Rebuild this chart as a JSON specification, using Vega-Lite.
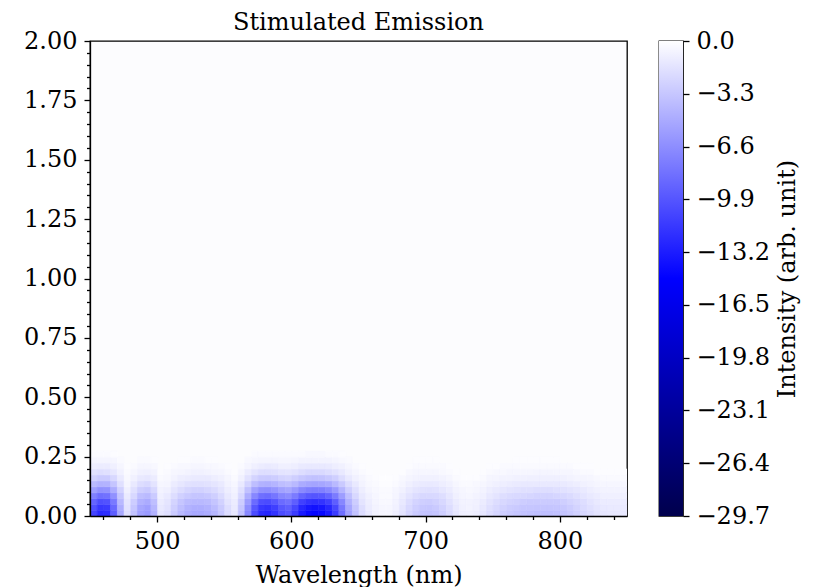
{
"$schema":"https://vega.github.io/schema/vega-lite/v6.json",
"background":"white",
"padding":{"left":22,"top":10,"right":5,"bottom":5},
"bounds":"flush",
"spacing":32,
"config":{
"font":"DejaVu Serif",
"axis":{"labelFont":"DejaVu Serif","labelFontSize":24,"labelColor":"black","titleFont":"DejaVu Serif","titleFontSize":24,"titleFontWeight":"normal","titleColor":"black","tickColor":"black","domainColor":"black","tickWidth":1.3,"domainWidth":1.3,"grid":false,"labelPadding":7}
},
"hconcat":[
{
"width":537,"height":475,
"title":{"text":"Stimulated Emission","font":"DejaVu Serif","fontSize":24,"fontWeight":"normal","offset":-6,"color":"black"},
"view":{"fill":"#fcfcfe","stroke":"black","strokeWidth":1.3},
"data":{"values":[
{"x":452.5,"y":0.0125,"v":-10.9},{"x":457.5,"y":0.0125,"v":-12.4},{"x":462.5,"y":0.0125,"v":-12.2},{"x":467.5,"y":0.0125,"v":-9.4},{"x":472.5,"y":0.0125,"v":-5.0},{"x":477.5,"y":0.0125,"v":-1.8},{"x":482.5,"y":0.0125,"v":-3.5},{"x":487.5,"y":0.0125,"v":-5.4},{"x":492.5,"y":0.0125,"v":-5.9},{"x":497.5,"y":0.0125,"v":-4.5},
{"x":502.5,"y":0.0125,"v":-1.4},{"x":507.5,"y":0.0125,"v":-1.8},{"x":512.5,"y":0.0125,"v":-3.0},{"x":517.5,"y":0.0125,"v":-4.0},{"x":522.5,"y":0.0125,"v":-4.7},{"x":527.5,"y":0.0125,"v":-5.0},{"x":532.5,"y":0.0125,"v":-5.0},{"x":537.5,"y":0.0125,"v":-4.8},{"x":542.5,"y":0.0125,"v":-4.2},{"x":547.5,"y":0.0125,"v":-3.2},
{"x":552.5,"y":0.0125,"v":-2.0},{"x":557.5,"y":0.0125,"v":-1.3},{"x":562.5,"y":0.0125,"v":-3.5},{"x":567.5,"y":0.0125,"v":-6.9},{"x":572.5,"y":0.0125,"v":-10.4},{"x":577.5,"y":0.0125,"v":-12.4},{"x":582.5,"y":0.0125,"v":-12.7},{"x":587.5,"y":0.0125,"v":-11.9},{"x":592.5,"y":0.0125,"v":-10.4},{"x":597.5,"y":0.0125,"v":-9.9},
{"x":602.5,"y":0.0125,"v":-11.4},{"x":607.5,"y":0.0125,"v":-13.4},{"x":612.5,"y":0.0125,"v":-14.4},{"x":617.5,"y":0.0125,"v":-14.7},{"x":622.5,"y":0.0125,"v":-14.4},{"x":627.5,"y":0.0125,"v":-13.4},{"x":632.5,"y":0.0125,"v":-11.4},{"x":637.5,"y":0.0125,"v":-8.4},{"x":642.5,"y":0.0125,"v":-5.4},{"x":647.5,"y":0.0125,"v":-3.5},
{"x":652.5,"y":0.0125,"v":-2.0},{"x":657.5,"y":0.0125,"v":-1.2},{"x":662.5,"y":0.0125,"v":-0.7},{"x":667.5,"y":0.0125,"v":-0.5},{"x":672.5,"y":0.0125,"v":-0.5},{"x":677.5,"y":0.0125,"v":-0.9},{"x":682.5,"y":0.0125,"v":-1.6},{"x":687.5,"y":0.0125,"v":-2.4},{"x":692.5,"y":0.0125,"v":-3.0},{"x":697.5,"y":0.0125,"v":-3.4},
{"x":702.5,"y":0.0125,"v":-3.5},{"x":707.5,"y":0.0125,"v":-3.3},{"x":712.5,"y":0.0125,"v":-2.8},{"x":717.5,"y":0.0125,"v":-2.1},{"x":722.5,"y":0.0125,"v":-1.4},{"x":727.5,"y":0.0125,"v":-0.9},{"x":732.5,"y":0.0125,"v":-0.8},{"x":737.5,"y":0.0125,"v":-1.0},{"x":742.5,"y":0.0125,"v":-1.4},{"x":747.5,"y":0.0125,"v":-1.9},
{"x":752.5,"y":0.0125,"v":-2.4},{"x":757.5,"y":0.0125,"v":-2.8},{"x":762.5,"y":0.0125,"v":-3.1},{"x":767.5,"y":0.0125,"v":-3.3},{"x":772.5,"y":0.0125,"v":-3.5},{"x":777.5,"y":0.0125,"v":-3.6},{"x":782.5,"y":0.0125,"v":-3.7},{"x":787.5,"y":0.0125,"v":-3.7},{"x":792.5,"y":0.0125,"v":-3.7},{"x":797.5,"y":0.0125,"v":-3.6},
{"x":802.5,"y":0.0125,"v":-3.4},{"x":807.5,"y":0.0125,"v":-3.1},{"x":812.5,"y":0.0125,"v":-2.7},{"x":817.5,"y":0.0125,"v":-2.3},{"x":822.5,"y":0.0125,"v":-1.9},{"x":827.5,"y":0.0125,"v":-1.6},{"x":832.5,"y":0.0125,"v":-1.4},{"x":837.5,"y":0.0125,"v":-1.3},{"x":842.5,"y":0.0125,"v":-1.3},{"x":847.5,"y":0.0125,"v":-1.3},

{"x":452.5,"y":0.0375,"v":-10.2},{"x":457.5,"y":0.0375,"v":-11.6},{"x":462.5,"y":0.0375,"v":-11.4},{"x":467.5,"y":0.0375,"v":-8.8},{"x":472.5,"y":0.0375,"v":-4.7},{"x":477.5,"y":0.0375,"v":-1.7},{"x":482.5,"y":0.0375,"v":-3.3},{"x":487.5,"y":0.0375,"v":-5.1},{"x":492.5,"y":0.0375,"v":-5.6},{"x":497.5,"y":0.0375,"v":-4.2},
{"x":502.5,"y":0.0375,"v":-1.3},{"x":507.5,"y":0.0375,"v":-1.7},{"x":512.5,"y":0.0375,"v":-2.8},{"x":517.5,"y":0.0375,"v":-3.7},{"x":522.5,"y":0.0375,"v":-4.4},{"x":527.5,"y":0.0375,"v":-4.7},{"x":532.5,"y":0.0375,"v":-4.7},{"x":537.5,"y":0.0375,"v":-4.5},{"x":542.5,"y":0.0375,"v":-3.9},{"x":547.5,"y":0.0375,"v":-3.0},
{"x":552.5,"y":0.0375,"v":-1.9},{"x":557.5,"y":0.0375,"v":-1.2},{"x":562.5,"y":0.0375,"v":-3.3},{"x":567.5,"y":0.0375,"v":-6.5},{"x":572.5,"y":0.0375,"v":-9.8},{"x":577.5,"y":0.0375,"v":-11.6},{"x":582.5,"y":0.0375,"v":-11.9},{"x":587.5,"y":0.0375,"v":-11.2},{"x":592.5,"y":0.0375,"v":-9.8},{"x":597.5,"y":0.0375,"v":-9.3},
{"x":602.5,"y":0.0375,"v":-10.7},{"x":607.5,"y":0.0375,"v":-12.6},{"x":612.5,"y":0.0375,"v":-13.5},{"x":617.5,"y":0.0375,"v":-13.8},{"x":622.5,"y":0.0375,"v":-13.5},{"x":627.5,"y":0.0375,"v":-12.6},{"x":632.5,"y":0.0375,"v":-10.7},{"x":637.5,"y":0.0375,"v":-7.9},{"x":642.5,"y":0.0375,"v":-5.1},{"x":647.5,"y":0.0375,"v":-3.3},
{"x":652.5,"y":0.0375,"v":-1.9},{"x":657.5,"y":0.0375,"v":-1.1},{"x":662.5,"y":0.0375,"v":-0.7},{"x":667.5,"y":0.0375,"v":-0.5},{"x":672.5,"y":0.0375,"v":-0.5},{"x":677.5,"y":0.0375,"v":-0.8},{"x":682.5,"y":0.0375,"v":-1.5},{"x":687.5,"y":0.0375,"v":-2.2},{"x":692.5,"y":0.0375,"v":-2.8},{"x":697.5,"y":0.0375,"v":-3.2},
{"x":702.5,"y":0.0375,"v":-3.3},{"x":707.5,"y":0.0375,"v":-3.1},{"x":712.5,"y":0.0375,"v":-2.6},{"x":717.5,"y":0.0375,"v":-2.0},{"x":722.5,"y":0.0375,"v":-1.3},{"x":727.5,"y":0.0375,"v":-0.8},{"x":732.5,"y":0.0375,"v":-0.7},{"x":737.5,"y":0.0375,"v":-0.9},{"x":742.5,"y":0.0375,"v":-1.3},{"x":747.5,"y":0.0375,"v":-1.8},
{"x":752.5,"y":0.0375,"v":-2.2},{"x":757.5,"y":0.0375,"v":-2.6},{"x":762.5,"y":0.0375,"v":-2.9},{"x":767.5,"y":0.0375,"v":-3.1},{"x":772.5,"y":0.0375,"v":-3.3},{"x":777.5,"y":0.0375,"v":-3.3},{"x":782.5,"y":0.0375,"v":-3.4},{"x":787.5,"y":0.0375,"v":-3.4},{"x":792.5,"y":0.0375,"v":-3.4},{"x":797.5,"y":0.0375,"v":-3.3},
{"x":802.5,"y":0.0375,"v":-3.2},{"x":807.5,"y":0.0375,"v":-2.9},{"x":812.5,"y":0.0375,"v":-2.5},{"x":817.5,"y":0.0375,"v":-2.1},{"x":822.5,"y":0.0375,"v":-1.8},{"x":827.5,"y":0.0375,"v":-1.5},{"x":832.5,"y":0.0375,"v":-1.3},{"x":837.5,"y":0.0375,"v":-1.2},{"x":842.5,"y":0.0375,"v":-1.2},{"x":847.5,"y":0.0375,"v":-1.2},

{"x":452.5,"y":0.0625,"v":-9.0},{"x":457.5,"y":0.0625,"v":-10.3},{"x":462.5,"y":0.0625,"v":-10.1},{"x":467.5,"y":0.0625,"v":-7.8},{"x":472.5,"y":0.0625,"v":-4.1},{"x":477.5,"y":0.0625,"v":-1.5},{"x":482.5,"y":0.0625,"v":-2.9},{"x":487.5,"y":0.0625,"v":-4.5},{"x":492.5,"y":0.0625,"v":-4.9},{"x":497.5,"y":0.0625,"v":-3.7},
{"x":502.5,"y":0.0625,"v":-1.1},{"x":507.5,"y":0.0625,"v":-1.5},{"x":512.5,"y":0.0625,"v":-2.5},{"x":517.5,"y":0.0625,"v":-3.3},{"x":522.5,"y":0.0625,"v":-3.9},{"x":527.5,"y":0.0625,"v":-4.1},{"x":532.5,"y":0.0625,"v":-4.1},{"x":537.5,"y":0.0625,"v":-3.9},{"x":542.5,"y":0.0625,"v":-3.4},{"x":547.5,"y":0.0625,"v":-2.6},
{"x":552.5,"y":0.0625,"v":-1.6},{"x":557.5,"y":0.0625,"v":-1.1},{"x":562.5,"y":0.0625,"v":-2.9},{"x":567.5,"y":0.0625,"v":-5.7},{"x":572.5,"y":0.0625,"v":-8.6},{"x":577.5,"y":0.0625,"v":-10.3},{"x":582.5,"y":0.0625,"v":-10.5},{"x":587.5,"y":0.0625,"v":-9.8},{"x":592.5,"y":0.0625,"v":-8.6},{"x":597.5,"y":0.0625,"v":-8.2},
{"x":602.5,"y":0.0625,"v":-9.4},{"x":607.5,"y":0.0625,"v":-11.1},{"x":612.5,"y":0.0625,"v":-11.9},{"x":617.5,"y":0.0625,"v":-12.1},{"x":622.5,"y":0.0625,"v":-11.9},{"x":627.5,"y":0.0625,"v":-11.1},{"x":632.5,"y":0.0625,"v":-9.4},{"x":637.5,"y":0.0625,"v":-7.0},{"x":642.5,"y":0.0625,"v":-4.5},{"x":647.5,"y":0.0625,"v":-2.9},
{"x":652.5,"y":0.0625,"v":-1.6},{"x":657.5,"y":0.0625,"v":-1.0},{"x":662.5,"y":0.0625,"v":-0.6},{"x":667.5,"y":0.0625,"v":-0.4},{"x":672.5,"y":0.0625,"v":-0.4},{"x":677.5,"y":0.0625,"v":-0.7},{"x":682.5,"y":0.0625,"v":-1.3},{"x":687.5,"y":0.0625,"v":-2.0},{"x":692.5,"y":0.0625,"v":-2.5},{"x":697.5,"y":0.0625,"v":-2.8},
{"x":702.5,"y":0.0625,"v":-2.9},{"x":707.5,"y":0.0625,"v":-2.7},{"x":712.5,"y":0.0625,"v":-2.3},{"x":717.5,"y":0.0625,"v":-1.7},{"x":722.5,"y":0.0625,"v":-1.1},{"x":727.5,"y":0.0625,"v":-0.7},{"x":732.5,"y":0.0625,"v":-0.7},{"x":737.5,"y":0.0625,"v":-0.8},{"x":742.5,"y":0.0625,"v":-1.1},{"x":747.5,"y":0.0625,"v":-1.6},
{"x":752.5,"y":0.0625,"v":-2.0},{"x":757.5,"y":0.0625,"v":-2.3},{"x":762.5,"y":0.0625,"v":-2.5},{"x":767.5,"y":0.0625,"v":-2.7},{"x":772.5,"y":0.0625,"v":-2.9},{"x":777.5,"y":0.0625,"v":-3.0},{"x":782.5,"y":0.0625,"v":-3.0},{"x":787.5,"y":0.0625,"v":-3.0},{"x":792.5,"y":0.0625,"v":-3.0},{"x":797.5,"y":0.0625,"v":-3.0},
{"x":802.5,"y":0.0625,"v":-2.8},{"x":807.5,"y":0.0625,"v":-2.5},{"x":812.5,"y":0.0625,"v":-2.2},{"x":817.5,"y":0.0625,"v":-1.9},{"x":822.5,"y":0.0625,"v":-1.6},{"x":827.5,"y":0.0625,"v":-1.3},{"x":832.5,"y":0.0625,"v":-1.1},{"x":837.5,"y":0.0625,"v":-1.1},{"x":842.5,"y":0.0625,"v":-1.1},{"x":847.5,"y":0.0625,"v":-1.1},

{"x":452.5,"y":0.0875,"v":-7.4},{"x":457.5,"y":0.0875,"v":-8.4},{"x":462.5,"y":0.0875,"v":-8.2},{"x":467.5,"y":0.0875,"v":-6.4},{"x":472.5,"y":0.0875,"v":-3.4},{"x":477.5,"y":0.0875,"v":-1.2},{"x":482.5,"y":0.0875,"v":-2.3},{"x":487.5,"y":0.0875,"v":-3.7},{"x":492.5,"y":0.0875,"v":-4.0},{"x":497.5,"y":0.0875,"v":-3.0},
{"x":502.5,"y":0.0875,"v":-0.9},{"x":507.5,"y":0.0875,"v":-1.2},{"x":512.5,"y":0.0875,"v":-2.0},{"x":517.5,"y":0.0875,"v":-2.7},{"x":522.5,"y":0.0875,"v":-3.1},{"x":527.5,"y":0.0875,"v":-3.4},{"x":532.5,"y":0.0875,"v":-3.4},{"x":537.5,"y":0.0875,"v":-3.2},{"x":542.5,"y":0.0875,"v":-2.8},{"x":547.5,"y":0.0875,"v":-2.1},
{"x":552.5,"y":0.0875,"v":-1.3},{"x":557.5,"y":0.0875,"v":-0.9},{"x":562.5,"y":0.0875,"v":-2.3},{"x":567.5,"y":0.0875,"v":-4.7},{"x":572.5,"y":0.0875,"v":-7.0},{"x":577.5,"y":0.0875,"v":-8.4},{"x":582.5,"y":0.0875,"v":-8.6},{"x":587.5,"y":0.0875,"v":-8.0},{"x":592.5,"y":0.0875,"v":-7.0},{"x":597.5,"y":0.0875,"v":-6.7},
{"x":602.5,"y":0.0875,"v":-7.7},{"x":607.5,"y":0.0875,"v":-9.0},{"x":612.5,"y":0.0875,"v":-9.7},{"x":617.5,"y":0.0875,"v":-9.9},{"x":622.5,"y":0.0875,"v":-9.7},{"x":627.5,"y":0.0875,"v":-9.0},{"x":632.5,"y":0.0875,"v":-7.7},{"x":637.5,"y":0.0875,"v":-5.7},{"x":642.5,"y":0.0875,"v":-3.7},{"x":647.5,"y":0.0875,"v":-2.3},
{"x":652.5,"y":0.0875,"v":-1.3},{"x":657.5,"y":0.0875,"v":-0.8},{"x":662.5,"y":0.0875,"v":-0.5},{"x":667.5,"y":0.0875,"v":-0.3},{"x":672.5,"y":0.0875,"v":-0.3},{"x":677.5,"y":0.0875,"v":-0.6},{"x":682.5,"y":0.0875,"v":-1.1},{"x":687.5,"y":0.0875,"v":-1.6},{"x":692.5,"y":0.0875,"v":-2.0},{"x":697.5,"y":0.0875,"v":-2.3},
{"x":702.5,"y":0.0875,"v":-2.3},{"x":707.5,"y":0.0875,"v":-2.2},{"x":712.5,"y":0.0875,"v":-1.9},{"x":717.5,"y":0.0875,"v":-1.4},{"x":722.5,"y":0.0875,"v":-0.9},{"x":727.5,"y":0.0875,"v":-0.6},{"x":732.5,"y":0.0875,"v":-0.5},{"x":737.5,"y":0.0875,"v":-0.7},{"x":742.5,"y":0.0875,"v":-0.9},{"x":747.5,"y":0.0875,"v":-1.3},
{"x":752.5,"y":0.0875,"v":-1.6},{"x":757.5,"y":0.0875,"v":-1.9},{"x":762.5,"y":0.0875,"v":-2.1},{"x":767.5,"y":0.0875,"v":-2.2},{"x":772.5,"y":0.0875,"v":-2.3},{"x":777.5,"y":0.0875,"v":-2.4},{"x":782.5,"y":0.0875,"v":-2.5},{"x":787.5,"y":0.0875,"v":-2.5},{"x":792.5,"y":0.0875,"v":-2.5},{"x":797.5,"y":0.0875,"v":-2.4},
{"x":802.5,"y":0.0875,"v":-2.3},{"x":807.5,"y":0.0875,"v":-2.1},{"x":812.5,"y":0.0875,"v":-1.8},{"x":817.5,"y":0.0875,"v":-1.5},{"x":822.5,"y":0.0875,"v":-1.3},{"x":827.5,"y":0.0875,"v":-1.1},{"x":832.5,"y":0.0875,"v":-0.9},{"x":837.5,"y":0.0875,"v":-0.9},{"x":842.5,"y":0.0875,"v":-0.9},{"x":847.5,"y":0.0875,"v":-0.9},

{"x":452.5,"y":0.1125,"v":-5.6},{"x":457.5,"y":0.1125,"v":-6.4},{"x":462.5,"y":0.1125,"v":-6.3},{"x":467.5,"y":0.1125,"v":-4.8},{"x":472.5,"y":0.1125,"v":-2.6},{"x":477.5,"y":0.1125,"v":-0.9},{"x":482.5,"y":0.1125,"v":-1.8},{"x":487.5,"y":0.1125,"v":-2.8},{"x":492.5,"y":0.1125,"v":-3.1},{"x":497.5,"y":0.1125,"v":-2.3},
{"x":502.5,"y":0.1125,"v":-0.7},{"x":507.5,"y":0.1125,"v":-0.9},{"x":512.5,"y":0.1125,"v":-1.5},{"x":517.5,"y":0.1125,"v":-2.0},{"x":522.5,"y":0.1125,"v":-2.4},{"x":527.5,"y":0.1125,"v":-2.6},{"x":532.5,"y":0.1125,"v":-2.6},{"x":537.5,"y":0.1125,"v":-2.4},{"x":542.5,"y":0.1125,"v":-2.1},{"x":547.5,"y":0.1125,"v":-1.6},
{"x":552.5,"y":0.1125,"v":-1.0},{"x":557.5,"y":0.1125,"v":-0.7},{"x":562.5,"y":0.1125,"v":-1.8},{"x":567.5,"y":0.1125,"v":-3.6},{"x":572.5,"y":0.1125,"v":-5.4},{"x":577.5,"y":0.1125,"v":-6.4},{"x":582.5,"y":0.1125,"v":-6.5},{"x":587.5,"y":0.1125,"v":-6.1},{"x":592.5,"y":0.1125,"v":-5.4},{"x":597.5,"y":0.1125,"v":-5.1},
{"x":602.5,"y":0.1125,"v":-5.9},{"x":607.5,"y":0.1125,"v":-6.9},{"x":612.5,"y":0.1125,"v":-7.4},{"x":617.5,"y":0.1125,"v":-7.5},{"x":622.5,"y":0.1125,"v":-7.4},{"x":627.5,"y":0.1125,"v":-6.9},{"x":632.5,"y":0.1125,"v":-5.9},{"x":637.5,"y":0.1125,"v":-4.3},{"x":642.5,"y":0.1125,"v":-2.8},{"x":647.5,"y":0.1125,"v":-1.8},
{"x":652.5,"y":0.1125,"v":-1.0},{"x":657.5,"y":0.1125,"v":-0.6},{"x":662.5,"y":0.1125,"v":-0.4},{"x":667.5,"y":0.1125,"v":-0.3},{"x":672.5,"y":0.1125,"v":-0.3},{"x":677.5,"y":0.1125,"v":-0.5},{"x":682.5,"y":0.1125,"v":-0.8},{"x":687.5,"y":0.1125,"v":-1.2},{"x":692.5,"y":0.1125,"v":-1.5},{"x":697.5,"y":0.1125,"v":-1.7},
{"x":702.5,"y":0.1125,"v":-1.8},{"x":707.5,"y":0.1125,"v":-1.7},{"x":712.5,"y":0.1125,"v":-1.4},{"x":717.5,"y":0.1125,"v":-1.1},{"x":722.5,"y":0.1125,"v":-0.7},{"x":727.5,"y":0.1125,"v":-0.5},{"x":732.5,"y":0.1125,"v":-0.4},{"x":737.5,"y":0.1125,"v":-0.5},{"x":742.5,"y":0.1125,"v":-0.7},{"x":747.5,"y":0.1125,"v":-1.0},
{"x":752.5,"y":0.1125,"v":-1.2},{"x":757.5,"y":0.1125,"v":-1.4},{"x":762.5,"y":0.1125,"v":-1.6},{"x":767.5,"y":0.1125,"v":-1.7},{"x":772.5,"y":0.1125,"v":-1.8},{"x":777.5,"y":0.1125,"v":-1.8},{"x":782.5,"y":0.1125,"v":-1.9},{"x":787.5,"y":0.1125,"v":-1.9},{"x":792.5,"y":0.1125,"v":-1.9},{"x":797.5,"y":0.1125,"v":-1.8},
{"x":802.5,"y":0.1125,"v":-1.7},{"x":807.5,"y":0.1125,"v":-1.6},{"x":812.5,"y":0.1125,"v":-1.4},{"x":817.5,"y":0.1125,"v":-1.2},{"x":822.5,"y":0.1125,"v":-1.0},{"x":827.5,"y":0.1125,"v":-0.8},{"x":832.5,"y":0.1125,"v":-0.7},{"x":837.5,"y":0.1125,"v":-0.7},{"x":842.5,"y":0.1125,"v":-0.7},{"x":847.5,"y":0.1125,"v":-0.7},

{"x":452.5,"y":0.1375,"v":-4.0},{"x":457.5,"y":0.1375,"v":-4.5},{"x":462.5,"y":0.1375,"v":-4.4},{"x":467.5,"y":0.1375,"v":-3.4},{"x":472.5,"y":0.1375,"v":-1.8},{"x":477.5,"y":0.1375,"v":-0.6},{"x":482.5,"y":0.1375,"v":-1.3},{"x":487.5,"y":0.1375,"v":-2.0},{"x":492.5,"y":0.1375,"v":-2.2},{"x":497.5,"y":0.1375,"v":-1.6},
{"x":502.5,"y":0.1375,"v":-0.5},{"x":507.5,"y":0.1375,"v":-0.6},{"x":512.5,"y":0.1375,"v":-1.1},{"x":517.5,"y":0.1375,"v":-1.4},{"x":522.5,"y":0.1375,"v":-1.7},{"x":527.5,"y":0.1375,"v":-1.8},{"x":532.5,"y":0.1375,"v":-1.8},{"x":537.5,"y":0.1375,"v":-1.7},{"x":542.5,"y":0.1375,"v":-1.5},{"x":547.5,"y":0.1375,"v":-1.2},
{"x":552.5,"y":0.1375,"v":-0.7},{"x":557.5,"y":0.1375,"v":-0.5},{"x":562.5,"y":0.1375,"v":-1.3},{"x":567.5,"y":0.1375,"v":-2.5},{"x":572.5,"y":0.1375,"v":-3.8},{"x":577.5,"y":0.1375,"v":-4.5},{"x":582.5,"y":0.1375,"v":-4.6},{"x":587.5,"y":0.1375,"v":-4.3},{"x":592.5,"y":0.1375,"v":-3.8},{"x":597.5,"y":0.1375,"v":-3.6},
{"x":602.5,"y":0.1375,"v":-4.1},{"x":607.5,"y":0.1375,"v":-4.9},{"x":612.5,"y":0.1375,"v":-5.2},{"x":617.5,"y":0.1375,"v":-5.3},{"x":622.5,"y":0.1375,"v":-5.2},{"x":627.5,"y":0.1375,"v":-4.9},{"x":632.5,"y":0.1375,"v":-4.1},{"x":637.5,"y":0.1375,"v":-3.1},{"x":642.5,"y":0.1375,"v":-2.0},{"x":647.5,"y":0.1375,"v":-1.3},
{"x":652.5,"y":0.1375,"v":-0.7},{"x":657.5,"y":0.1375,"v":-0.4},{"x":662.5,"y":0.1375,"v":-0.3},{"x":667.5,"y":0.1375,"v":-0.2},{"x":672.5,"y":0.1375,"v":-0.2},{"x":677.5,"y":0.1375,"v":-0.3},{"x":682.5,"y":0.1375,"v":-0.6},{"x":687.5,"y":0.1375,"v":-0.9},{"x":692.5,"y":0.1375,"v":-1.1},{"x":697.5,"y":0.1375,"v":-1.2},
{"x":702.5,"y":0.1375,"v":-1.3},{"x":707.5,"y":0.1375,"v":-1.2},{"x":712.5,"y":0.1375,"v":-1.0},{"x":717.5,"y":0.1375,"v":-0.8},{"x":722.5,"y":0.1375,"v":-0.5},{"x":727.5,"y":0.1375,"v":-0.3},{"x":732.5,"y":0.1375,"v":-0.3},{"x":737.5,"y":0.1375,"v":-0.4},{"x":742.5,"y":0.1375,"v":-0.5},{"x":747.5,"y":0.1375,"v":-0.7},
{"x":752.5,"y":0.1375,"v":-0.9},{"x":757.5,"y":0.1375,"v":-1.0},{"x":762.5,"y":0.1375,"v":-1.1},{"x":767.5,"y":0.1375,"v":-1.2},{"x":772.5,"y":0.1375,"v":-1.3},{"x":777.5,"y":0.1375,"v":-1.3},{"x":782.5,"y":0.1375,"v":-1.3},{"x":787.5,"y":0.1375,"v":-1.3},{"x":792.5,"y":0.1375,"v":-1.3},{"x":797.5,"y":0.1375,"v":-1.3},
{"x":802.5,"y":0.1375,"v":-1.2},{"x":807.5,"y":0.1375,"v":-1.1},{"x":812.5,"y":0.1375,"v":-1.0},{"x":817.5,"y":0.1375,"v":-0.8},{"x":822.5,"y":0.1375,"v":-0.7},{"x":827.5,"y":0.1375,"v":-0.6},{"x":832.5,"y":0.1375,"v":-0.5},{"x":837.5,"y":0.1375,"v":-0.5},{"x":842.5,"y":0.1375,"v":-0.5},{"x":847.5,"y":0.1375,"v":-0.5},

{"x":452.5,"y":0.1625,"v":-2.6},{"x":457.5,"y":0.1625,"v":-3.0},{"x":462.5,"y":0.1625,"v":-3.0},{"x":467.5,"y":0.1625,"v":-2.3},{"x":472.5,"y":0.1625,"v":-1.2},{"x":477.5,"y":0.1625,"v":-0.4},{"x":482.5,"y":0.1625,"v":-0.8},{"x":487.5,"y":0.1625,"v":-1.3},{"x":492.5,"y":0.1625,"v":-1.4},{"x":497.5,"y":0.1625,"v":-1.1},
{"x":502.5,"y":0.1625,"v":-0.3},{"x":507.5,"y":0.1625,"v":-0.4},{"x":512.5,"y":0.1625,"v":-0.7},{"x":517.5,"y":0.1625,"v":-1.0},{"x":522.5,"y":0.1625,"v":-1.1},{"x":527.5,"y":0.1625,"v":-1.2},{"x":532.5,"y":0.1625,"v":-1.2},{"x":537.5,"y":0.1625,"v":-1.2},{"x":542.5,"y":0.1625,"v":-1.0},{"x":547.5,"y":0.1625,"v":-0.8},
{"x":552.5,"y":0.1625,"v":-0.5},{"x":557.5,"y":0.1625,"v":-0.3},{"x":562.5,"y":0.1625,"v":-0.8},{"x":567.5,"y":0.1625,"v":-1.7},{"x":572.5,"y":0.1625,"v":-2.5},{"x":577.5,"y":0.1625,"v":-3.0},{"x":582.5,"y":0.1625,"v":-3.1},{"x":587.5,"y":0.1625,"v":-2.9},{"x":592.5,"y":0.1625,"v":-2.5},{"x":597.5,"y":0.1625,"v":-2.4},
{"x":602.5,"y":0.1625,"v":-2.8},{"x":607.5,"y":0.1625,"v":-3.2},{"x":612.5,"y":0.1625,"v":-3.5},{"x":617.5,"y":0.1625,"v":-3.6},{"x":622.5,"y":0.1625,"v":-3.5},{"x":627.5,"y":0.1625,"v":-3.2},{"x":632.5,"y":0.1625,"v":-2.8},{"x":637.5,"y":0.1625,"v":-2.0},{"x":642.5,"y":0.1625,"v":-1.3},{"x":647.5,"y":0.1625,"v":-0.8},
{"x":652.5,"y":0.1625,"v":-0.5},{"x":657.5,"y":0.1625,"v":-0.3},{"x":662.5,"y":0.1625,"v":-0.2},{"x":667.5,"y":0.1625,"v":-0.1},{"x":672.5,"y":0.1625,"v":-0.1},{"x":677.5,"y":0.1625,"v":-0.2},{"x":682.5,"y":0.1625,"v":-0.4},{"x":687.5,"y":0.1625,"v":-0.6},{"x":692.5,"y":0.1625,"v":-0.7},{"x":697.5,"y":0.1625,"v":-0.8},
{"x":702.5,"y":0.1625,"v":-0.8},{"x":707.5,"y":0.1625,"v":-0.8},{"x":712.5,"y":0.1625,"v":-0.7},{"x":717.5,"y":0.1625,"v":-0.5},{"x":722.5,"y":0.1625,"v":-0.3},{"x":727.5,"y":0.1625,"v":-0.2},{"x":732.5,"y":0.1625,"v":-0.2},{"x":737.5,"y":0.1625,"v":-0.2},{"x":742.5,"y":0.1625,"v":-0.3},{"x":747.5,"y":0.1625,"v":-0.5},
{"x":752.5,"y":0.1625,"v":-0.6},{"x":757.5,"y":0.1625,"v":-0.7},{"x":762.5,"y":0.1625,"v":-0.7},{"x":767.5,"y":0.1625,"v":-0.8},{"x":772.5,"y":0.1625,"v":-0.8},{"x":777.5,"y":0.1625,"v":-0.9},{"x":782.5,"y":0.1625,"v":-0.9},{"x":787.5,"y":0.1625,"v":-0.9},{"x":792.5,"y":0.1625,"v":-0.9},{"x":797.5,"y":0.1625,"v":-0.9},
{"x":802.5,"y":0.1625,"v":-0.8},{"x":807.5,"y":0.1625,"v":-0.7},{"x":812.5,"y":0.1625,"v":-0.6},{"x":817.5,"y":0.1625,"v":-0.6},{"x":822.5,"y":0.1625,"v":-0.5},{"x":827.5,"y":0.1625,"v":-0.4},{"x":832.5,"y":0.1625,"v":-0.3},{"x":837.5,"y":0.1625,"v":-0.3},{"x":842.5,"y":0.1625,"v":-0.3},{"x":847.5,"y":0.1625,"v":-0.3},

{"x":452.5,"y":0.1875,"v":-1.7},{"x":457.5,"y":0.1875,"v":-1.9},{"x":462.5,"y":0.1875,"v":-1.8},{"x":467.5,"y":0.1875,"v":-1.4},{"x":472.5,"y":0.1875,"v":-0.8},{"x":477.5,"y":0.1875,"v":-0.3},{"x":482.5,"y":0.1875,"v":-0.5},{"x":487.5,"y":0.1875,"v":-0.8},{"x":492.5,"y":0.1875,"v":-0.9},{"x":497.5,"y":0.1875,"v":-0.7},
{"x":502.5,"y":0.1875,"v":-0.2},{"x":507.5,"y":0.1875,"v":-0.3},{"x":512.5,"y":0.1875,"v":-0.5},{"x":517.5,"y":0.1875,"v":-0.6},{"x":522.5,"y":0.1875,"v":-0.7},{"x":527.5,"y":0.1875,"v":-0.8},{"x":532.5,"y":0.1875,"v":-0.8},{"x":537.5,"y":0.1875,"v":-0.7},{"x":542.5,"y":0.1875,"v":-0.6},{"x":547.5,"y":0.1875,"v":-0.5},
{"x":552.5,"y":0.1875,"v":-0.3},{"x":557.5,"y":0.1875,"v":-0.2},{"x":562.5,"y":0.1875,"v":-0.5},{"x":567.5,"y":0.1875,"v":-1.1},{"x":572.5,"y":0.1875,"v":-1.6},{"x":577.5,"y":0.1875,"v":-1.9},{"x":582.5,"y":0.1875,"v":-1.9},{"x":587.5,"y":0.1875,"v":-1.8},{"x":592.5,"y":0.1875,"v":-1.6},{"x":597.5,"y":0.1875,"v":-1.5},
{"x":602.5,"y":0.1875,"v":-1.7},{"x":607.5,"y":0.1875,"v":-2.0},{"x":612.5,"y":0.1875,"v":-2.2},{"x":617.5,"y":0.1875,"v":-2.2},{"x":622.5,"y":0.1875,"v":-2.2},{"x":627.5,"y":0.1875,"v":-2.0},{"x":632.5,"y":0.1875,"v":-1.7},{"x":637.5,"y":0.1875,"v":-1.3},{"x":642.5,"y":0.1875,"v":-0.8},{"x":647.5,"y":0.1875,"v":-0.5},
{"x":652.5,"y":0.1875,"v":-0.3},{"x":657.5,"y":0.1875,"v":-0.2},{"x":682.5,"y":0.1875,"v":-0.2},{"x":687.5,"y":0.1875,"v":-0.4},{"x":692.5,"y":0.1875,"v":-0.5},{"x":697.5,"y":0.1875,"v":-0.5},{"x":702.5,"y":0.1875,"v":-0.5},{"x":707.5,"y":0.1875,"v":-0.5},{"x":712.5,"y":0.1875,"v":-0.4},{"x":717.5,"y":0.1875,"v":-0.3},
{"x":722.5,"y":0.1875,"v":-0.2},{"x":742.5,"y":0.1875,"v":-0.2},{"x":747.5,"y":0.1875,"v":-0.3},{"x":752.5,"y":0.1875,"v":-0.4},{"x":757.5,"y":0.1875,"v":-0.4},{"x":762.5,"y":0.1875,"v":-0.5},{"x":767.5,"y":0.1875,"v":-0.5},{"x":772.5,"y":0.1875,"v":-0.5},{"x":777.5,"y":0.1875,"v":-0.5},{"x":782.5,"y":0.1875,"v":-0.6},
{"x":787.5,"y":0.1875,"v":-0.6},{"x":792.5,"y":0.1875,"v":-0.6},{"x":797.5,"y":0.1875,"v":-0.5},{"x":802.5,"y":0.1875,"v":-0.5},{"x":807.5,"y":0.1875,"v":-0.5},{"x":812.5,"y":0.1875,"v":-0.4},{"x":817.5,"y":0.1875,"v":-0.3},{"x":822.5,"y":0.1875,"v":-0.3},{"x":827.5,"y":0.1875,"v":-0.2},{"x":832.5,"y":0.1875,"v":-0.2},
{"x":837.5,"y":0.1875,"v":-0.2},{"x":842.5,"y":0.1875,"v":-0.2},{"x":847.5,"y":0.1875,"v":-0.2},

{"x":452.5,"y":0.2125,"v":-1.0},{"x":457.5,"y":0.2125,"v":-1.1},{"x":462.5,"y":0.2125,"v":-1.1},{"x":467.5,"y":0.2125,"v":-0.9},{"x":472.5,"y":0.2125,"v":-0.5},{"x":477.5,"y":0.2125,"v":-0.2},{"x":482.5,"y":0.2125,"v":-0.3},{"x":487.5,"y":0.2125,"v":-0.5},{"x":492.5,"y":0.2125,"v":-0.5},{"x":497.5,"y":0.2125,"v":-0.4},
{"x":507.5,"y":0.2125,"v":-0.2},{"x":512.5,"y":0.2125,"v":-0.3},{"x":517.5,"y":0.2125,"v":-0.4},{"x":522.5,"y":0.2125,"v":-0.4},{"x":527.5,"y":0.2125,"v":-0.5},{"x":532.5,"y":0.2125,"v":-0.5},{"x":537.5,"y":0.2125,"v":-0.4},{"x":542.5,"y":0.2125,"v":-0.4},{"x":547.5,"y":0.2125,"v":-0.3},{"x":552.5,"y":0.2125,"v":-0.2},
{"x":562.5,"y":0.2125,"v":-0.3},{"x":567.5,"y":0.2125,"v":-0.6},{"x":572.5,"y":0.2125,"v":-0.9},{"x":577.5,"y":0.2125,"v":-1.1},{"x":582.5,"y":0.2125,"v":-1.2},{"x":587.5,"y":0.2125,"v":-1.1},{"x":592.5,"y":0.2125,"v":-0.9},{"x":597.5,"y":0.2125,"v":-0.9},{"x":602.5,"y":0.2125,"v":-1.0},{"x":607.5,"y":0.2125,"v":-1.2},
{"x":612.5,"y":0.2125,"v":-1.3},{"x":617.5,"y":0.2125,"v":-1.3},{"x":622.5,"y":0.2125,"v":-1.3},{"x":627.5,"y":0.2125,"v":-1.2},{"x":632.5,"y":0.2125,"v":-1.0},{"x":637.5,"y":0.2125,"v":-0.8},{"x":642.5,"y":0.2125,"v":-0.5},{"x":647.5,"y":0.2125,"v":-0.3},{"x":652.5,"y":0.2125,"v":-0.2},{"x":687.5,"y":0.2125,"v":-0.2},
{"x":692.5,"y":0.2125,"v":-0.3},{"x":697.5,"y":0.2125,"v":-0.3},{"x":702.5,"y":0.2125,"v":-0.3},{"x":707.5,"y":0.2125,"v":-0.3},{"x":712.5,"y":0.2125,"v":-0.3},{"x":717.5,"y":0.2125,"v":-0.2},{"x":747.5,"y":0.2125,"v":-0.2},{"x":752.5,"y":0.2125,"v":-0.2},{"x":757.5,"y":0.2125,"v":-0.3},{"x":762.5,"y":0.2125,"v":-0.3},
{"x":767.5,"y":0.2125,"v":-0.3},{"x":772.5,"y":0.2125,"v":-0.3},{"x":777.5,"y":0.2125,"v":-0.3},{"x":782.5,"y":0.2125,"v":-0.3},{"x":787.5,"y":0.2125,"v":-0.3},{"x":792.5,"y":0.2125,"v":-0.3},{"x":797.5,"y":0.2125,"v":-0.3},{"x":802.5,"y":0.2125,"v":-0.3},{"x":807.5,"y":0.2125,"v":-0.3},{"x":812.5,"y":0.2125,"v":-0.2},
{"x":817.5,"y":0.2125,"v":-0.2},{"x":822.5,"y":0.2125,"v":-0.2},

{"x":452.5,"y":0.2375,"v":-0.6},{"x":457.5,"y":0.2375,"v":-0.6},{"x":462.5,"y":0.2375,"v":-0.6},{"x":467.5,"y":0.2375,"v":-0.5},{"x":472.5,"y":0.2375,"v":-0.3},{"x":487.5,"y":0.2375,"v":-0.3},{"x":492.5,"y":0.2375,"v":-0.3},{"x":497.5,"y":0.2375,"v":-0.2},{"x":517.5,"y":0.2375,"v":-0.2},{"x":522.5,"y":0.2375,"v":-0.2},
{"x":527.5,"y":0.2375,"v":-0.3},{"x":532.5,"y":0.2375,"v":-0.3},{"x":537.5,"y":0.2375,"v":-0.2},{"x":542.5,"y":0.2375,"v":-0.2},{"x":567.5,"y":0.2375,"v":-0.4},{"x":572.5,"y":0.2375,"v":-0.5},{"x":577.5,"y":0.2375,"v":-0.6},{"x":582.5,"y":0.2375,"v":-0.6},{"x":587.5,"y":0.2375,"v":-0.6},{"x":592.5,"y":0.2375,"v":-0.5},
{"x":597.5,"y":0.2375,"v":-0.5},{"x":602.5,"y":0.2375,"v":-0.6},{"x":607.5,"y":0.2375,"v":-0.7},{"x":612.5,"y":0.2375,"v":-0.7},{"x":617.5,"y":0.2375,"v":-0.7},{"x":622.5,"y":0.2375,"v":-0.7},{"x":627.5,"y":0.2375,"v":-0.7},{"x":632.5,"y":0.2375,"v":-0.6},{"x":637.5,"y":0.2375,"v":-0.4},{"x":642.5,"y":0.2375,"v":-0.3},
{"x":692.5,"y":0.2375,"v":-0.2},{"x":697.5,"y":0.2375,"v":-0.2},{"x":702.5,"y":0.2375,"v":-0.2},{"x":707.5,"y":0.2375,"v":-0.2},{"x":767.5,"y":0.2375,"v":-0.2},{"x":772.5,"y":0.2375,"v":-0.2},{"x":777.5,"y":0.2375,"v":-0.2},{"x":782.5,"y":0.2375,"v":-0.2},{"x":787.5,"y":0.2375,"v":-0.2},{"x":792.5,"y":0.2375,"v":-0.2},
{"x":797.5,"y":0.2375,"v":-0.2},

{"x":452.5,"y":0.2625,"v":-0.3},{"x":457.5,"y":0.2625,"v":-0.3},{"x":462.5,"y":0.2625,"v":-0.3},{"x":467.5,"y":0.2625,"v":-0.2},{"x":572.5,"y":0.2625,"v":-0.3},{"x":577.5,"y":0.2625,"v":-0.3},{"x":582.5,"y":0.2625,"v":-0.3},{"x":587.5,"y":0.2625,"v":-0.3},{"x":592.5,"y":0.2625,"v":-0.3},{"x":597.5,"y":0.2625,"v":-0.3},
{"x":602.5,"y":0.2625,"v":-0.3},{"x":607.5,"y":0.2625,"v":-0.3},{"x":612.5,"y":0.2625,"v":-0.4},{"x":617.5,"y":0.2625,"v":-0.4},{"x":622.5,"y":0.2625,"v":-0.4},{"x":627.5,"y":0.2625,"v":-0.3},{"x":632.5,"y":0.2625,"v":-0.3},{"x":637.5,"y":0.2625,"v":-0.2}
]},
"mark":{"type":"rect","strokeWidth":0.6,"clip":true},
"encoding":{
"x":{"field":"x","type":"quantitative","bin":{"step":5,"extent":[450,850]},"scale":{"domain":[450,850],"nice":false,"zero":false},
"axis":{"title":"Wavelength (nm)","titlePadding":10,"values":[460,480,500,520,540,560,580,600,620,640,660,680,700,720,740,760,780,800,820,840],"format":"d","labelExpr":"datum.value % 100 === 0 ? datum.label : ''","labelOverlap":false,"labelFlush":false,"tickSize":{"condition":{"test":"datum.value % 100 === 0","value":6},"value":3.5}}},
"y":{"field":"y","type":"quantitative","bin":{"step":0.025,"extent":[0,2]},"scale":{"domain":[0,2],"nice":false,"zero":false},
"axis":{"title":null,"values":[0,0.05,0.1,0.15,0.2,0.25,0.3,0.35,0.4,0.45,0.5,0.55,0.6,0.65,0.7,0.75,0.8,0.85,0.9,0.95,1,1.05,1.1,1.15,1.2,1.25,1.3,1.35,1.4,1.45,1.5,1.55,1.6,1.65,1.7,1.75,1.8,1.85,1.9,1.95,2],"format":".2f","labelExpr":"abs(datum.value*4 - round(datum.value*4)) < 0.000001 ? datum.label : ''","labelOverlap":false,"labelFlush":false,"tickSize":{"condition":{"test":"abs(datum.value*4 - round(datum.value*4)) < 0.000001","value":6},"value":3.5}}},
"fill":{"field":"v","type":"quantitative","scale":{"domain":[-29.7,-14.85,0],"range":["#00004c","#0000ff","#ffffff"],"interpolate":"rgb"},"legend":null},
"stroke":{"field":"v","type":"quantitative","scale":{"domain":[-29.7,-14.85,0],"range":["#00004c","#0000ff","#ffffff"],"interpolate":"rgb"},"legend":null}
}
},
{
"width":24,"height":475,
"view":{"stroke":"black","strokeWidth":1.3},
"data":{"values":[{"lo":-29.7,"hi":0}]},
"mark":{"type":"rect","fill":{"gradient":"linear","x1":0,"y1":0,"x2":0,"y2":1,"stops":[{"offset":0,"color":"#ffffff"},{"offset":0.5,"color":"#0000ff"},{"offset":1,"color":"#00004c"}]}},
"encoding":{
"y":{"field":"lo","type":"quantitative","scale":{"domain":[-29.7,0],"nice":false,"zero":false},
"axis":{"orient":"right","domain":false,"values":[0,-3.3,-6.6,-9.9,-13.2,-16.5,-19.8,-23.1,-26.4,-29.7],"format":".1f","tickSize":6,"labelOverlap":false,"labelFlush":false,"title":"Intensity (arb. unit)","titleAngle":270,"titleBaseline":"top","titlePadding":6}},
"y2":{"field":"hi"}
}
}
]
}
